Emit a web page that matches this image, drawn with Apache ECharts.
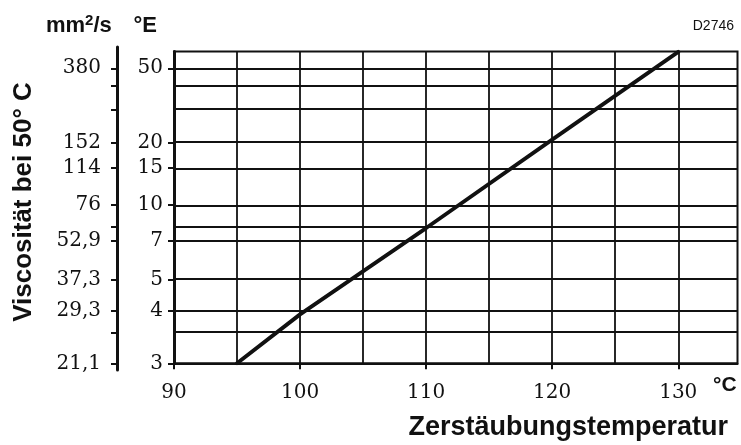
<!DOCTYPE html>
<html>
<head>
<meta charset="utf-8">
<script src="https://cdn.jsdelivr.net/npm/echarts@6/dist/echarts.min.js"></script>
<style>
  html, body { margin: 0; padding: 0; background: #fff; }
  #chart { width: 741px; height: 445px; }
</style>
</head>
<body>
<div id="chart"></div>
<script>
// Required viscosity (°E) against atomizing temperature (°C)
const lineTemps = [95, 100, 110, 120, 130];
const lineEngler = [3, 3.9, 7.9, 20.8, 61.5];

// Horizontal rulings of the viscosity scale, °E
const englerGrid = [50, 40, 30, 20, 15, 10, 8, 7, 5, 4, 3.5, 3];
// Labelled °E values and their kinematic equivalents in mm²/s
const englerLabels = [50, 20, 15, 10, 7, 5, 4, 3];
const kinematicLabels = ['380', '152', '114', '76', '52,9', '37,3', '29,3', '21,1'];
// Vertical rulings and labelled temperatures, °C
const tempGrid = [95, 100, 105, 110, 115, 120, 125, 130];
const tempLabels = [90, 100, 110, 120, 130];

const E_MIN = 3, E_MAX = 61.8;
const T_MIN = 90, T_MAX = 134.7;

// Spacing of the Engler scale: log10(°E - 2)
const scaleE = e => Math.log10(e - 2);

const S_MIN = scaleE(E_MIN), S_MAX = scaleE(E_MAX);

// Plot frame
const G = { left: 174, right: 3.5, top: 51.5, bottom: 81.7 };
const H = 445 - G.top - G.bottom;
const pxPerUnit = H / (S_MAX - S_MIN);
// The mm²/s scale runs a little beyond the frame at both ends
const G2 = { left: G.left, right: G.right, top: 47, bottom: 75 };
const S2_MIN = S_MIN - (G.bottom - G2.bottom) / pxPerUnit;
const S2_MAX = S_MAX + (G.top - G2.top) / pxPerUnit;

function nearestIndex(v, list) {
  let best = 0, d = Infinity;
  list.forEach((e, i) => {
    const dd = Math.abs(scaleE(e) - v);
    if (dd < d) { d = dd; best = i; }
  });
  return best;
}

const serif = 'DejaVu Serif';
const sans = 'Liberation Sans';
const ink = '#111';

const chart = echarts.init(document.getElementById('chart'), null, { renderer: 'canvas' });

chart.setOption({
  animation: false,
  backgroundColor: '#fff',
  grid: [
    Object.assign({ show: true, borderColor: ink, borderWidth: 2, backgroundColor: 'transparent', outerBoundsMode: 'none' }, G),
    Object.assign({ show: false, outerBoundsMode: 'none' }, G2)
  ],
  xAxis: [
    {
      type: 'value', gridIndex: 0, min: T_MIN, max: T_MAX,
      axisLine: { show: true, lineStyle: { color: ink, width: 2 } },
      axisTick: { show: true, customValues: tempLabels, length: 6, lineStyle: { color: ink, width: 2 } },
      axisLabel: {
        show: true, customValues: tempLabels, margin: 19,
        fontFamily: serif, fontSize: 20, color: ink
      },
      splitLine: { show: false }
    },
    { type: 'value', gridIndex: 1, min: T_MIN, max: T_MAX, show: false }
  ],
  yAxis: [
    {
      type: 'value', gridIndex: 0, min: S_MIN, max: S_MAX,
      axisLine: { show: true, lineStyle: { color: ink, width: 3 } },
      axisTick: {
        show: true, customValues: englerLabels.map(scaleE), length: 6,
        lineStyle: { color: ink, width: 2 }
      },
      axisLabel: {
        show: true, customValues: englerLabels.map(scaleE), margin: 11,
        fontFamily: serif, fontSize: 20, color: ink,
        formatter: v => String(englerLabels[nearestIndex(v, englerLabels)])
      },
      splitLine: { show: false }
    },
    {
      type: 'value', gridIndex: 1, min: S2_MIN, max: S2_MAX,
      position: 'left', offset: G.left - 117,
      axisLine: { show: true, lineStyle: { color: ink, width: 3 } },
      axisTick: {
        show: true, customValues: englerGrid.map(scaleE), length: 6,
        lineStyle: { color: ink, width: 2 }
      },
      axisLabel: {
        show: true, customValues: englerLabels.map(scaleE), margin: 16,
        fontFamily: serif, fontSize: 20, color: ink,
        formatter: v => kinematicLabels[nearestIndex(v, englerLabels)]
      },
      splitLine: { show: false }
    }
  ],
  series: [
    {
      // rulings of the diagram
      type: 'line', xAxisIndex: 0, yAxisIndex: 0, data: [], silent: true, z: 1,
      markLine: {
        silent: true, symbol: 'none', animation: false, z: 1,
        label: { show: false },
        lineStyle: { color: ink, width: 1.8, type: 'solid' },
        emphasis: { disabled: true },
        data: englerGrid.map(e => ({ yAxis: scaleE(e) }))
          .concat(tempGrid.map(t => ({ xAxis: t })))
      }
    },
    {
      type: 'line', xAxisIndex: 0, yAxisIndex: 0, z: 10,
      data: lineTemps.map((t, i) => [t, scaleE(lineEngler[i])]),
      symbol: 'none', silent: true,
      lineStyle: { color: ink, width: 3.9, cap: 'round' }
    }
  ],
  graphic: [
    {
      type: 'text', left: 46, top: 13,
      style: {
        text: '{t|mm}{s|2}{t|/s}',
        rich: {
          t: { fontFamily: sans, fontWeight: 'bold', fontSize: 22, lineHeight: 25, fill: ink },
          s: { fontFamily: sans, fontWeight: 'bold', fontSize: 15, lineHeight: 15, verticalAlign: 'top', fill: ink }
        }
      }
    },
    {
      type: 'text', x: 157, y: 26,
      style: {
        text: '°E', fontFamily: sans, fontWeight: 'bold', fontSize: 22,
        fill: ink, align: 'right', verticalAlign: 'middle'
      }
    },
    {
      type: 'text', x: 734, y: 26,
      style: { text: 'D2746', fontFamily: sans, fontSize: 14, fill: ink, align: 'right', verticalAlign: 'middle' }
    },
    {
      type: 'text', x: 24, y: 202, rotation: Math.PI / 2,
      style: {
        text: 'Viscosität bei 50° C', fontFamily: sans, fontWeight: 'bold', fontSize: 26,
        fill: ink, align: 'center', verticalAlign: 'middle'
      }
    },
    {
      type: 'text', x: 728, y: 428,
      style: {
        text: 'Zerstäubungstemperatur', fontFamily: sans, fontWeight: 'bold', fontSize: 27,
        fill: ink, align: 'right', verticalAlign: 'middle'
      }
    },
    {
      type: 'text', x: 713, y: 385,
      style: {
        text: '°C', fontFamily: sans, fontWeight: 'bold', fontSize: 21,
        fill: ink, align: 'left', verticalAlign: 'middle'
      }
    }
  ]
});
</script>
</body>
</html>
